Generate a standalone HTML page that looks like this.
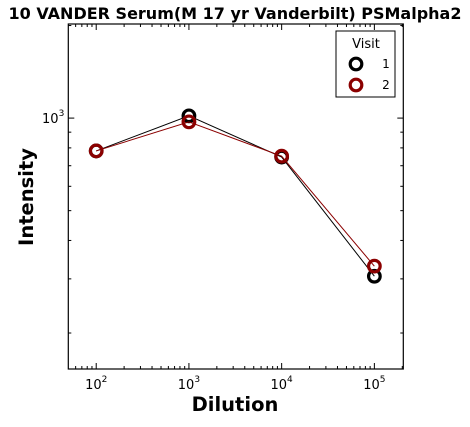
<!DOCTYPE html>
<html><head><meta charset="utf-8"><style>
body{margin:0;background:#fff;}
svg text{font-family:"DejaVu Sans","Liberation Sans",sans-serif;}
</style></head><body>
<svg id="c" width="470" height="422" xmlns="http://www.w3.org/2000/svg">
<text x="235" y="19" text-anchor="middle" font-size="16" font-weight="bold">10 VANDER Serum(M 17 yr Vanderbilt) PSMalpha2</text>
<text x="235" y="411" text-anchor="middle" font-size="19.5" font-weight="bold">Dilution</text>
<text transform="translate(33,197) rotate(-90)" text-anchor="middle" font-size="19.5" font-weight="bold">Intensity</text>
<g id="plot"></g>
</svg>
<script>
const dilutions=[100,1000,10000,100000];
const visit1=[782,1017,747,306];
const visit2=[782,972,752,330];
const visits=['1','2'];
const colors=['#000000','#8b0000'];
const xTicks=[100,1000,10000,100000];
const xTickLabels=['2','3','4','5'];
const L=68.3,R=403.3,T=24,B=369;
const xmin=1.699,xmax=5.312,ymin=2.184,ymax=3.306;
const sx=v=>L+(Math.log10(v)-xmin)/(xmax-xmin)*(R-L);
const sy=v=>B-(Math.log10(v)-ymin)/(ymax-ymin)*(B-T);
const NS='http://www.w3.org/2000/svg';
const g=document.getElementById('plot');
function mk(t,a){const e=document.createElementNS(NS,t);for(const k in a)e.setAttribute(k,a[k]);g.appendChild(e);return e;}
for(let d=1;d<=6;d++){for(let m=1;m<10;m++){const v=m*Math.pow(10,d);const x=sx(v);if(x<L||x>R)continue;const len=m==1?6:3;
const t1=mk('line',{x1:x,x2:x,y1:B,y2:B-len,stroke:'#000','stroke-width':1});
const t2=mk('line',{x1:x,x2:x,y1:T,y2:T+len,stroke:'#000','stroke-width':1});}}
xTicks.forEach((v,i)=>{const t=mk('text',{x:sx(v),y:B+20,'text-anchor':'middle','font-size':13});t.innerHTML='10<tspan dy="-7" font-size="9">'+xTickLabels[i]+'</tspan>';});
for(let d=2;d<=3;d++){for(let m=1;m<10;m++){const v=m*Math.pow(10,d);const y=sy(v);if(y<T||y>B)continue;const len=m==1?6:3;
const t1=mk('line',{x1:L,x2:L+len,y1:y,y2:y,stroke:'#000','stroke-width':1});
const t2=mk('line',{x1:R,x2:R-len,y1:y,y2:y,stroke:'#000','stroke-width':1});}}
const yl=mk('text',{x:L-4,y:sy(1000)+5,'text-anchor':'end','font-size':13});yl.innerHTML='10<tspan dy="-7" font-size="9">3</tspan>';
const fr=mk('rect',{x:L,y:T,width:R-L,height:B-T,fill:'none',stroke:'#000','stroke-width':1.2});
[visit1,visit2].forEach((s,i)=>{
const p=mk('polyline',{points:dilutions.map((d,j)=>sx(d)+','+sy(s[j])).join(' '),fill:'none',stroke:colors[i],'stroke-width':1});
dilutions.forEach((d,j)=>{const c=mk('circle',{cx:sx(d),cy:sy(s[j]),r:5.8,fill:'none',stroke:colors[i],'stroke-width':3.2});});
});
const lg=mk('rect',{x:336,y:31,width:59,height:66,fill:'#fff',stroke:'#000','stroke-width':1});
const lt=mk('text',{x:366,y:48,'text-anchor':'middle','font-size':13});lt.textContent='Visit';
visits.forEach((v,i)=>{const y=64+i*21;
const c=mk('circle',{cx:356,cy:y,r:5.8,fill:'none',stroke:colors[i],'stroke-width':3.2});
const t=mk('text',{x:386,y:y+4,'text-anchor':'middle','font-size':12});t.textContent=v;});
</script>
</body></html>
